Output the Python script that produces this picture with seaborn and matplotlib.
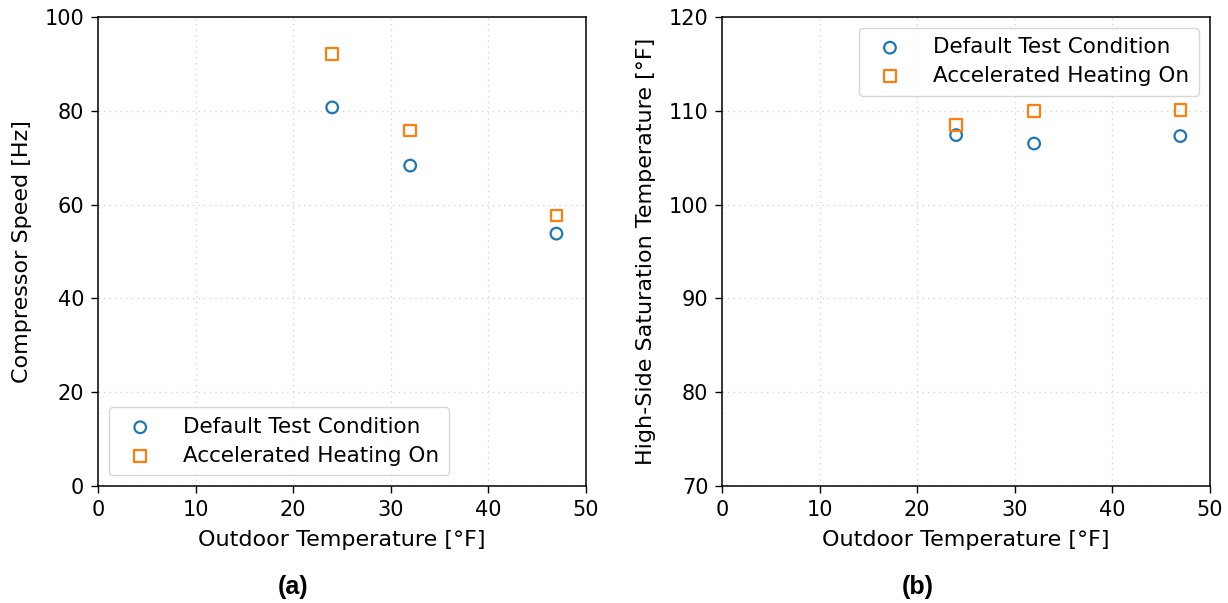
import matplotlib
matplotlib.use("Agg")
import matplotlib.pyplot as plt
import seaborn as sns
import pandas as pd

outdoor_temp = [24, 32, 47]
speed_default = [80.7, 68.3, 53.8]
speed_accel = [92.1, 75.8, 57.7]
sat_default = [107.4, 106.5, 107.3]
sat_accel = [108.5, 110.0, 110.1]
series_labels = ["Default Test Condition", "Accelerated Heating On"]
panel_tags = ["(a)", "(b)"]

sns.set_style("white")
plt.rcParams['font.family'] = ['DejaVu Sans']
plt.rcParams['text.color'] = 'black'
plt.rcParams['axes.labelcolor'] = 'black'
plt.rcParams['xtick.color'] = 'black'
plt.rcParams['ytick.color'] = 'black'

blue = "#1f77b4"
orange = "#ff7f0e"

fig, axes = plt.subplots(1, 2, figsize=(12.28, 6.03), dpi=100)
fig.subplots_adjust(left=0.08, right=0.985, top=0.972, bottom=0.194, wspace=0.28)

panels = [
    (axes[0], speed_default, speed_accel, (0, 100), "Compressor Speed [Hz]", "lower left"),
    (axes[1], sat_default, sat_accel, (70, 120), "High-Side Saturation Temperature [°F]", "upper right"),
]

for ax, yd, ya, ylim, ylabel, loc in panels:
    df_d = pd.DataFrame({"x": outdoor_temp, "y": yd})
    df_a = pd.DataFrame({"x": outdoor_temp, "y": ya})
    sns.scatterplot(data=df_d, x="x", y="y", ax=ax, marker="o", s=70,
                    facecolors="none", edgecolor=blue, linewidth=1.6,
                    label=series_labels[0], zorder=3)
    sns.scatterplot(data=df_a, x="x", y="y", ax=ax, marker="s", s=70,
                    facecolors="none", edgecolor=orange, linewidth=1.6,
                    label=series_labels[1], zorder=3)
    ax.set_xlim(0, 50)
    ax.set_ylim(*ylim)
    ax.set_xticks(range(0, 51, 10))
    ax.set_xlabel("Outdoor Temperature [°F]", fontsize=16, labelpad=7)
    ax.set_ylabel(ylabel, fontsize=16, labelpad=9)
    ax.tick_params(axis="both", labelsize=15, direction="out", length=5, width=1.0,
                   color="black", left=True, bottom=True, pad=5)
    ax.grid(True, linestyle=(0, (1, 3)), color="#d5d5d5", linewidth=1.0)
    for sp in ax.spines.values():
        sp.set_color("black")
        sp.set_linewidth(1.1)
    leg = ax.legend(loc=loc, fontsize=15.5, frameon=True, markerscale=1.0,
                    handletextpad=1.0, borderpad=0.45, labelspacing=0.4)
    leg.get_frame().set_edgecolor("#cccccc")

for xpos, tag in zip([0.239, 0.7475], panel_tags):
    fig.text(xpos, 0.027, tag, ha="center", va="center",
             fontsize=18, fontweight="bold", family="Liberation Sans")

fig.savefig("out.png", dpi=100)
